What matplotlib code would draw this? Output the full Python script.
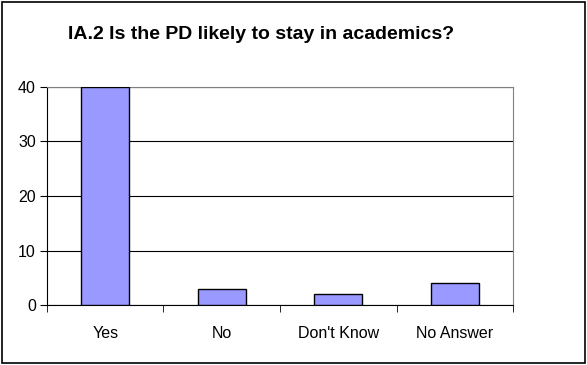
import matplotlib
matplotlib.use("Agg")
import matplotlib.pyplot as plt
from matplotlib.patches import Rectangle

# Data
categories = ["Yes", "No", "Don't Know", "No Answer"]
counts = [40, 3, 2, 4]
y_ticks = [0, 10, 20, 30, 40]

plt.rcParams['font.family'] = ['Liberation Sans', 'DejaVu Sans']

fig = plt.figure(figsize=(5.87, 3.65), dpi=100)
ax = fig.add_axes([0.080, 0.164, 0.794, 0.598])

x = list(range(len(categories)))
ax.bar(x, counts, width=0.41, color="#9999FF", edgecolor="black", linewidth=1, zorder=3)

ax.set_xlim(-0.5, len(categories) - 0.5)
ax.set_ylim(0, 40)
ax.set_yticks(y_ticks)
ax.yaxis.grid(True, color="black", linewidth=0.8, zorder=0)

# category labels centered, ticks between categories
ax.set_xticks(x)
ax.set_xticklabels(categories, fontsize=11.5)
ax.tick_params(axis="x", length=0, pad=15)
ax.set_xticks([i - 0.5 for i in range(len(categories) + 1)], minor=True)
ax.tick_params(axis="x", which="minor", length=5, direction="out", color="black")
ax.tick_params(axis="y", length=5, direction="out", labelsize=11.5, pad=3)

for side in ["top", "right"]:
    ax.spines[side].set_color("#808080")
ax.spines["left"].set_color("black")
ax.spines["bottom"].set_color("black")

fig.text(0.445, 0.905, "IA.2 Is the PD likely to stay in academics?",
         ha="center", va="center", fontsize=14, fontweight="bold")

# outer chart border
fig.patches.append(Rectangle((0.004, 0.005), 0.992, 0.99, transform=fig.transFigure,
                             fill=False, edgecolor="black", linewidth=1.2))

fig.savefig("out.png", dpi=100)
